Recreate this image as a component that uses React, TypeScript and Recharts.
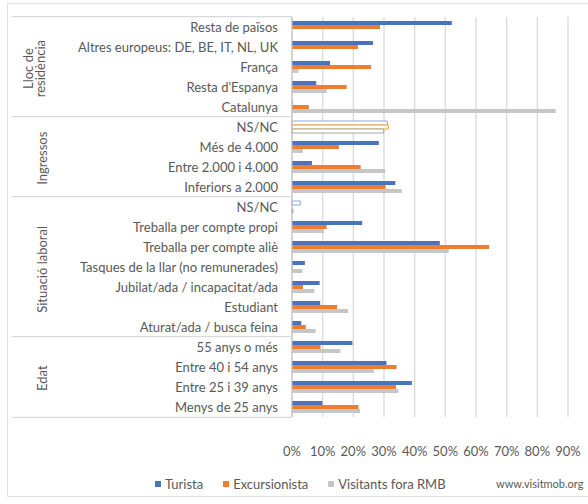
import React from 'react';
import { BarChart, Bar, XAxis, YAxis, CartesianGrid, Cell, Legend } from 'recharts';

const categories = [
  'Resta de països',
  'Altres europeus: DE, BE, IT, NL, UK',
  'França',
  "Resta d'Espanya",
  'Catalunya',
  'NS/NC',
  'Més de 4.000',
  'Entre 2.000 i 4.000',
  'Inferiors a 2.000',
  'NS/NC',
  'Treballa per compte propi',
  'Treballa per compte aliè',
  'Tasques de la llar (no remunerades)',
  'Jubilat/ada / incapacitat/ada',
  'Estudiant',
  'Aturat/ada / busca feina',
  '55 anys o més',
  'Entre 40 i 54 anys',
  'Entre 25 i 39 anys',
  'Menys de 25 anys',
];

const turista = [52.1, 26.4, 12.4, 7.9, 0.2, 31.1, 28.3, 6.5, 33.7, 2.7, 22.9, 48.2, 4.2, 9.0, 9.2, 3.0, 19.7, 30.8, 39.1, 9.9];
const excursionista = [28.7, 21.5, 25.8, 17.8, 5.5, 31.4, 15.3, 22.4, 30.5, 0, 11.3, 64.3, 0.2, 3.6, 14.7, 4.5, 9.3, 34.1, 33.9, 21.7];
const visitants = [0, 0, 2.1, 11.3, 86.0, 29.9, 3.5, 30.4, 35.8, 0.3, 10.4, 51.1, 3.4, 7.3, 18.3, 7.7, 15.8, 26.7, 34.7, 22.2];

// rows answered "NS/NC" are drawn as outlined bars
const outlined = [5, 9];

const groupLabels = [['Lloc de', 'residència'], ['Ingressos'], ['Situació laboral'], ['Edat']];
const groupStarts = [0, 5, 9, 16];
const groupCounts = [5, 4, 7, 4];

const xTicks = [0, 10, 20, 30, 40, 50, 60, 70, 80, 90];

const seriesNames = ['Turista', 'Excursionista', 'Visitants fora RMB'];
const seriesColors = ['#4A72C0', '#ED7D31', '#C6C6C6'];
const outlineColors = ['#8EA9DB', '#FFA31A', '#A6A6A6'];

const W = 588;
const H = 504;
const M = { top: 17, right: 20, bottom: 41, left: 0 };
const XAXIS_H = 30;
const PLOT_H = H - M.top - M.bottom - XAXIS_H;
const BAND = PLOT_H / categories.length;
const LABEL_LEFT = 12;
const AXIS_X = 292;
const FONT = 'Lato, "Open Sans", sans-serif';
const TXT = '#595959';
const LINE = '#D9D9D9';

const data = categories.map((c, i) => ({
  key: String(i),
  turista: turista[i],
  excursionista: excursionista[i],
  visitants: visitants[i],
}));

const YTick = (props: any) => {
  const { y, payload } = props;
  const i = Number(payload.value);
  const label = categories[i];
  const top = y - BAND / 2;
  const g = groupStarts.indexOf(i);
  const els: any[] = [];
  if (g >= 0) {
    els.push(<line key="sep" x1={LABEL_LEFT} x2={AXIS_X} y1={top} y2={top} stroke={LINE} strokeWidth={1.2} />);
    const cy = top + (groupCounts[g] * BAND) / 2;
    const lines = groupLabels[g];
    const cx = lines.length > 1 ? 34 : 42;
    lines.forEach((ln, k) => {
      const lx = cx + (k - (lines.length - 1) / 2) * 12.5;
      els.push(
        <text key={'g' + k} x={lx} y={cy} transform={`rotate(-90 ${lx} ${cy})`} textAnchor="middle" dominantBaseline="central" fill={TXT} fontSize={13} fontFamily={FONT}>
          {ln}
        </text>
      );
    });
  }
  if (i === categories.length - 1) {
    const bot = y + BAND / 2;
    els.push(<line key="bot" x1={LABEL_LEFT} x2={AXIS_X} y1={bot} y2={bot} stroke={LINE} strokeWidth={1.2} />);
  }
  return (
    <g>
      {els}
      <text x={278} y={y} textAnchor="end" dominantBaseline="central" fill={TXT} fontSize={13} fontFamily={FONT}>
        {label}
      </text>
    </g>
  );
};

const LegendContent = () => (
  <div style={{ position: 'absolute', left: 155, top: 0, display: 'flex', alignItems: 'center', fontFamily: FONT, fontSize: 13, color: TXT, whiteSpace: 'nowrap' }}>
    {seriesNames.map((n, k) => (
      <div key={n} style={{ display: 'flex', alignItems: 'center', marginRight: 20 }}>
        <span style={{ display: 'inline-block', width: 6, height: 6, background: seriesColors[k], marginRight: 4 }} />
        <span>{n}</span>
      </div>
    ))}
  </div>
);

const keys = ['turista', 'excursionista', 'visitants'];

export default function App() {
  return (
    <div style={{ position: 'absolute', left: 0, top: 0, width: W, height: H, background: '#fff', overflow: 'hidden' }}>
      <div style={{ position: 'absolute', left: 7, top: 3, width: W, height: 494, border: '1px solid #E2E2E2', boxSizing: 'border-box' }} />
      <BarChart width={W} height={H} data={data} layout="vertical" margin={M} barSize={4} barGap={0}>
        <CartesianGrid horizontal={false} stroke={LINE} strokeWidth={1.3} />
        <XAxis
          type="number"
          domain={[0, 90]}
          ticks={xTicks}
          height={XAXIS_H}
          tickFormatter={(v: number) => `${v}%`}
          axisLine={false}
          tickLine={false}
          tickMargin={24}
          tick={{ fill: TXT, fontSize: 13, fontFamily: FONT }}
          interval={0}
        />
        <YAxis
          type="category"
          dataKey="key"
          width={AXIS_X}
          interval={0}
          axisLine={{ stroke: '#BFBFBF' }}
          tickLine={false}
          tick={<YTick />}
        />
        {keys.map((k, s) => (
          <Bar key={k} dataKey={k} name={seriesNames[s]} fill={seriesColors[s]} isAnimationActive={false}>
            {data.map((d, i) =>
              outlined.includes(i) ? (
                <Cell key={i} fill="#FFFFFF" stroke={outlineColors[s]} strokeWidth={1} />
              ) : (
                <Cell key={i} fill={seriesColors[s]} />
              )
            )}
          </Bar>
        ))}
        <Legend content={<LegendContent />} wrapperStyle={{ position: 'absolute', left: 0, top: 476, width: W, height: 16 }} />
      </BarChart>
      <div style={{ position: 'absolute', left: 496, top: 477, fontFamily: FONT, fontSize: 11, color: TXT }}>www.visitmob.org</div>
    </div>
  );
}
